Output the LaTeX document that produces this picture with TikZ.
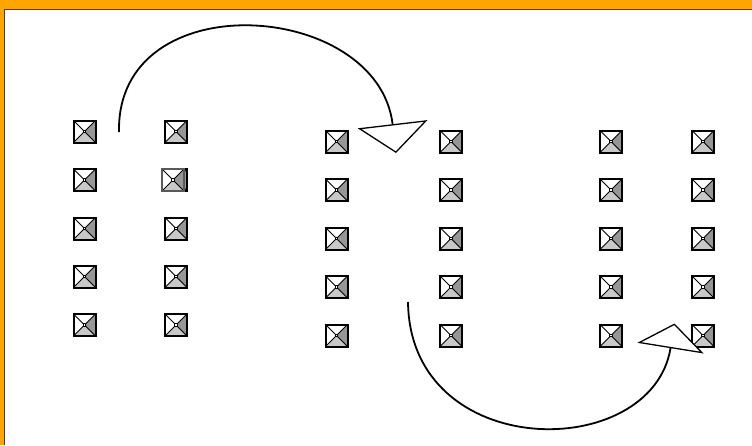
\documentclass[tikz,border=0pt]{standalone}
\usetikzlibrary{arrows.meta}

\definecolor{frameorange}{RGB}{255,165,0}
\definecolor{pinlight}{RGB}{200,200,200}
\definecolor{pindark}{RGB}{150,150,150}

\tikzset{
  pinbox/.style={draw,line width=2pt,minimum size=22pt,inner sep=0pt,fill=white,
    path picture={
      \fill[pinlight] (path picture bounding box.center) -- +(-11pt,-11pt) -- +(11pt,-11pt) -- cycle;
      \fill[pindark] (path picture bounding box.center) -- +(11pt,-11pt) -- +(11pt,11pt) -- cycle;
      \draw[black,line width=1pt] (path picture bounding box.center) +(-11pt,-11pt) -- +(11pt,11pt)
        +(-11pt,11pt) -- +(11pt,-11pt);
      \draw[black,line width=0.7pt,fill=white] (path picture bounding box.center) +(-1.3pt,-1.3pt) rectangle +(1.3pt,1.3pt);
    }},
  hop/.style={line width=1.8pt},
}

\begin{document}
\begin{tikzpicture}[x=1pt,y=-1pt]
\useasboundingbox (0,0) rectangle (752,445);
\fill[frameorange] (0,0) rectangle (752,445);
\fill[white] (4.5,9.5) rectangle (752,445);
\draw[line width=1.5pt,black!75] (4.5,445) -- (4.5,9.5) -- (752,9.5);

% first group
\foreach \col/\x in {a/84.5,b/176}
  \foreach \row/\y in {1/131.5,2/180,3/228.5,4/276.5,5/325}
    \node[pinbox] (\col\row) at (\x,\y) {};
\node[pinbox,draw=black!65] (b2x) at (173,180) {};

% second and third group
\foreach \col/\x in {c/336.5,d/451,e/611,f/703}
  \foreach \row/\y in {1/141.5,2/190,3/238.5,4/287,5/335.5}
    \node[pinbox] (\col\row) at (\x,\y) {};

% moves
\coordinate (s1) at (119,132);
\coordinate (t1) at (396,153);
\draw[hop,-{Triangle[length=29pt,width=70pt,fill=white,line width=1.3pt]}] (s1) .. controls (116,-18) and (378,0) .. (t1);
\coordinate (s2) at (408,302);
\coordinate (t2) at (674.5,323.5);
\draw[hop,-{Triangle[length=25pt,width=67pt,fill=white,line width=1.3pt]}] (s2) .. controls (410,463) and (652,463) .. (t2);
\end{tikzpicture}
\end{document}
